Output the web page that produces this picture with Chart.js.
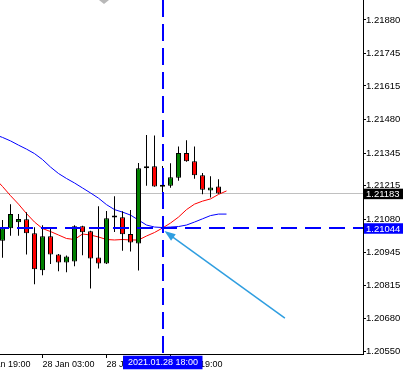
<!DOCTYPE html>
<html>
<head>
<meta charset="utf-8">
<script src="https://cdn.jsdelivr.net/npm/chart.js@4.4.1/dist/chart.umd.min.js"></script>
<style>
  html, body { margin: 0; padding: 0; background: #fff; overflow: hidden; }
  #wrap { position: relative; width: 403px; height: 373px; }
</style>
</head>
<body>
<div id="wrap"><canvas id="chart" width="403" height="373"></canvas></div>
<script>
// H1 candles with two moving averages and a crosshair on 2021.01.28 18:00

const opens  = [1.20993, 1.21043, 1.21067, 1.21079, 1.21023, 1.20874, 1.21011, 1.20938, 1.20906, 1.20910,
                1.21051, 1.21031, 1.20926, 1.20902, 1.21086, 1.21087, 1.21020, 1.20982, 1.21284, 1.21292,
                1.21210, 1.21214, 1.21246, 1.21345, 1.21312, 1.21256, 1.21195, 1.21211];
const highs  = [1.21076, 1.21140, 1.21100, 1.21107, 1.21047, 1.21055, 1.21047, 1.20940, 1.20934, 1.21055,
                1.21053, 1.21033, 1.21132, 1.21112, 1.21172, 1.21111, 1.21116, 1.21305, 1.21418, 1.21416,
                1.21293, 1.21304, 1.21372, 1.21397, 1.21372, 1.21265, 1.21252, 1.21240];
const lows   = [1.20925, 1.21013, 1.21013, 1.20938, 1.20818, 1.20854, 1.20900, 1.20870, 1.20866, 1.20890,
                1.20935, 1.20801, 1.20881, 1.20900, 1.21028, 1.20953, 1.20950, 1.20873, 1.21214, 1.21210,
                1.21156, 1.21206, 1.21234, 1.21310, 1.21242, 1.21180, 1.21167, 1.21182];
const closes = [1.21043, 1.21100, 1.21080, 1.21023, 1.20878, 1.21011, 1.20938, 1.20906, 1.20930, 1.21051,
                1.21027, 1.20922, 1.20902, 1.21083, 1.21086, 1.21019, 1.20986, 1.21284, 1.21292, 1.21211,
                1.21210, 1.21248, 1.21345, 1.21312, 1.21256, 1.21198, 1.21207, 1.21183];

// moving averages run one bar past the last candle; first value is at bar -1
const maStart = -1;
const fastMA = [1.21245, 1.21211, 1.21174, 1.21140, 1.21102, 1.21068, 1.21042, 1.21030, 1.21016, 1.21002,
                1.20998, 1.21020, 1.21016, 1.21008, 1.20998, 1.20996, 1.20998, 1.20996, 1.20996, 1.21012,
                1.21026, 1.21044, 1.21064, 1.21088, 1.21118, 1.21140, 1.21152, 1.21161, 1.21179, 1.21193];
const slowMA = [1.21420, 1.21408, 1.21394, 1.21377, 1.21361, 1.21343, 1.21319, 1.21289, 1.21263, 1.21243,
                1.21225, 1.21205, 1.21185, 1.21164, 1.21138, 1.21118, 1.21108, 1.21096, 1.21076, 1.21056,
                1.21048, 1.21046, 1.21048, 1.21050, 1.21056, 1.21068, 1.21081, 1.21094, 1.21100, 1.21100];

const timeTicks  = [-3, 5, 13, 21];
const timeLabels = ['27 Jan 19:00', '28 Jan 03:00', '28 Jan 11:00', '28 Jan 19:00'];
const priceTicks = [1.20550, 1.20680, 1.20815, 1.20945, 1.21080, 1.21215, 1.21345, 1.21480, 1.21615, 1.21745, 1.21880];

const bid        = 1.21183;
const crossIndex = 20;
const crossPrice = 1.21044;
const crossTime  = '2021.01.28 18:00';
const arrowFrom  = [35.3, 1.20682];
const arrowTo    = [20.25, 1.21032];

const X_MIN = -0.3125, X_MAX = 45.0625;
const Y_MIN = 1.20538, Y_MAX = 1.21960;

const FONT = "'Liberation Sans', Arial, sans-serif";
Chart.defaults.font.family = FONT;
Chart.defaults.color = '#000';

const bars = opens.map((_, i) => i);
const wickData = bars.map(i => ({ x: i, y: [lows[i], highs[i]] }));
const bodyData = bars.map(i => ({ x: i, y: [opens[i], closes[i]] }));
const bodyColors = bars.map(i => closes[i] > opens[i] ? '#008000' : (closes[i] < opens[i] ? '#ff0000' : '#000000'));
const maPoints = arr => arr.map((v, k) => ({ x: maStart + k, y: v }));

function tag(ctx, x0, x1, yc, h, bg, text, align, tx, size) {
  ctx.fillStyle = bg;
  ctx.fillRect(x0, yc - h / 2, x1 - x0, h);
  ctx.fillStyle = '#fff';
  ctx.font = size + 'px ' + FONT;
  ctx.textAlign = align;
  ctx.textBaseline = 'middle';
  ctx.fillText(text, tx, yc + 0.5);
}

const overlay = {
  id: 'overlay',
  beforeDatasetsDraw(chart) {
    const { ctx, chartArea: a, scales: { y } } = chart;
    const py = Math.round(y.getPixelForValue(bid)) + 0.5;
    ctx.save();
    ctx.strokeStyle = '#c0c0c0';
    ctx.lineWidth = 1;
    ctx.beginPath();
    ctx.moveTo(a.left, py);
    ctx.lineTo(a.right, py);
    ctx.stroke();
    ctx.restore();
  },
  afterDraw(chart) {
    const { ctx, chartArea: a, scales: { x, y } } = chart;
    const cx = Math.round(x.getPixelForValue(crossIndex));
    const cy = Math.round(y.getPixelForValue(crossPrice));
    ctx.save();

    // crosshair
    ctx.strokeStyle = '#0000ff';
    ctx.lineWidth = 2;
    ctx.setLineDash([17, 7]);
    ctx.beginPath();
    ctx.moveTo(cx, a.top);
    ctx.lineTo(cx, a.bottom);
    ctx.stroke();
    ctx.setLineDash([16, 8]);
    ctx.lineDashOffset = 24 - (cx - 2) % 24;
    ctx.beginPath();
    ctx.moveTo(a.left, cy);
    ctx.lineTo(a.right, cy);
    ctx.stroke();
    ctx.setLineDash([]);

    // arrow
    const x0 = x.getPixelForValue(arrowFrom[0]), y0 = y.getPixelForValue(arrowFrom[1]);
    const x1 = x.getPixelForValue(arrowTo[0]),   y1 = y.getPixelForValue(arrowTo[1]);
    const ang = Math.atan2(y1 - y0, x1 - x0);
    const head = 11, half = 4;
    ctx.strokeStyle = ctx.fillStyle = '#2f9ee0';
    ctx.lineWidth = 1.5;
    ctx.beginPath();
    ctx.moveTo(x0, y0);
    ctx.lineTo(x1 - Math.cos(ang) * head * 0.7, y1 - Math.sin(ang) * head * 0.7);
    ctx.stroke();
    const bx = x1 - Math.cos(ang) * head, by = y1 - Math.sin(ang) * head;
    ctx.beginPath();
    ctx.moveTo(x1, y1);
    ctx.lineTo(bx + Math.sin(ang) * half, by - Math.cos(ang) * half);
    ctx.lineTo(bx - Math.sin(ang) * half, by + Math.cos(ang) * half);
    ctx.closePath();
    ctx.fill();

    // axis tags
    const by0 = y.getPixelForValue(bid);
    tag(ctx, a.right + 1, chart.width, by0 + 0.5, 10.5, '#000000', bid.toFixed(5), 'left', a.right + 3, 9.5);
    tag(ctx, a.right + 1, chart.width, cy + 0.5, 10.5, '#0000ff', crossPrice.toFixed(5), 'left', a.right + 3, 9.5);
    tag(ctx, cx - 40, cx + 39.5, a.bottom + 8.5, 13.5, '#0000ff', crossTime, 'center', cx, 9);

    // chart shift marker
    ctx.fillStyle = '#b8b8b8';
    ctx.beginPath();
    ctx.moveTo(99, 0);
    ctx.lineTo(109, 0);
    ctx.lineTo(104, 4);
    ctx.closePath();
    ctx.fill();

    ctx.restore();
  }
};

new Chart(document.getElementById('chart').getContext('2d'), {
  type: 'bar',
  data: {
    datasets: [
      { type: 'line', data: maPoints(slowMA), borderColor: '#0000ff', borderWidth: 1, pointRadius: 0, tension: 0, order: 4 },
      { type: 'line', data: maPoints(fastMA), borderColor: '#ff0000', borderWidth: 1, pointRadius: 0, tension: 0, order: 3 },
      { type: 'bar', data: wickData, backgroundColor: '#000000', borderWidth: 0, barThickness: 1,
        grouped: false, inflateAmount: 0, order: 2 },
      { type: 'bar', data: bodyData, backgroundColor: bodyColors, borderColor: '#000000', borderWidth: 1,
        borderSkipped: false, barThickness: 5, minBarLength: 2, grouped: false, inflateAmount: 0, order: 1 }
    ]
  },
  options: {
    responsive: false,
    animation: false,
    devicePixelRatio: 1,
    events: [],
    layout: { padding: 0 },
    plugins: { legend: { display: false }, tooltip: { enabled: false } },
    scales: {
      x: {
        type: 'linear',
        position: 'bottom',
        min: X_MIN,
        max: X_MAX,
        offset: false,
        bounds: 'data',
        grid: { drawOnChartArea: false, drawTicks: true, tickLength: 4, color: '#000', offset: false },
        border: { display: true, color: '#000', width: 1 },
        ticks: {
          align: 'start',
          autoSkip: false,
          maxRotation: 0,
          padding: 1,
          font: { size: 9 },
          color: '#000',
          callback: (v, i) => timeLabels[i]
        },
        afterBuildTicks(s) { s.ticks = timeTicks.map(v => ({ value: v })); },
        afterFit(s) { s.height = 19; s.paddingLeft = 0; s.paddingRight = 0; }
      },
      y: {
        type: 'linear',
        position: 'right',
        min: Y_MIN,
        max: Y_MAX,
        beginAtZero: false,
        bounds: 'data',
        grid: { drawOnChartArea: false, drawTicks: true, tickLength: 3, color: '#000' },
        border: { display: true, color: '#000', width: 1 },
        ticks: {
          padding: 0,
          autoSkip: false,
          font: { size: 9.5 },
          color: '#000',
          callback: v => v.toFixed(5)
        },
        afterBuildTicks(s) { s.ticks = priceTicks.map(v => ({ value: v })); },
        afterFit(s) { s.width = 40; s.paddingTop = 0; s.paddingBottom = 0; }
      }
    }
  },
  plugins: [overlay]
});
</script>
</body>
</html>
